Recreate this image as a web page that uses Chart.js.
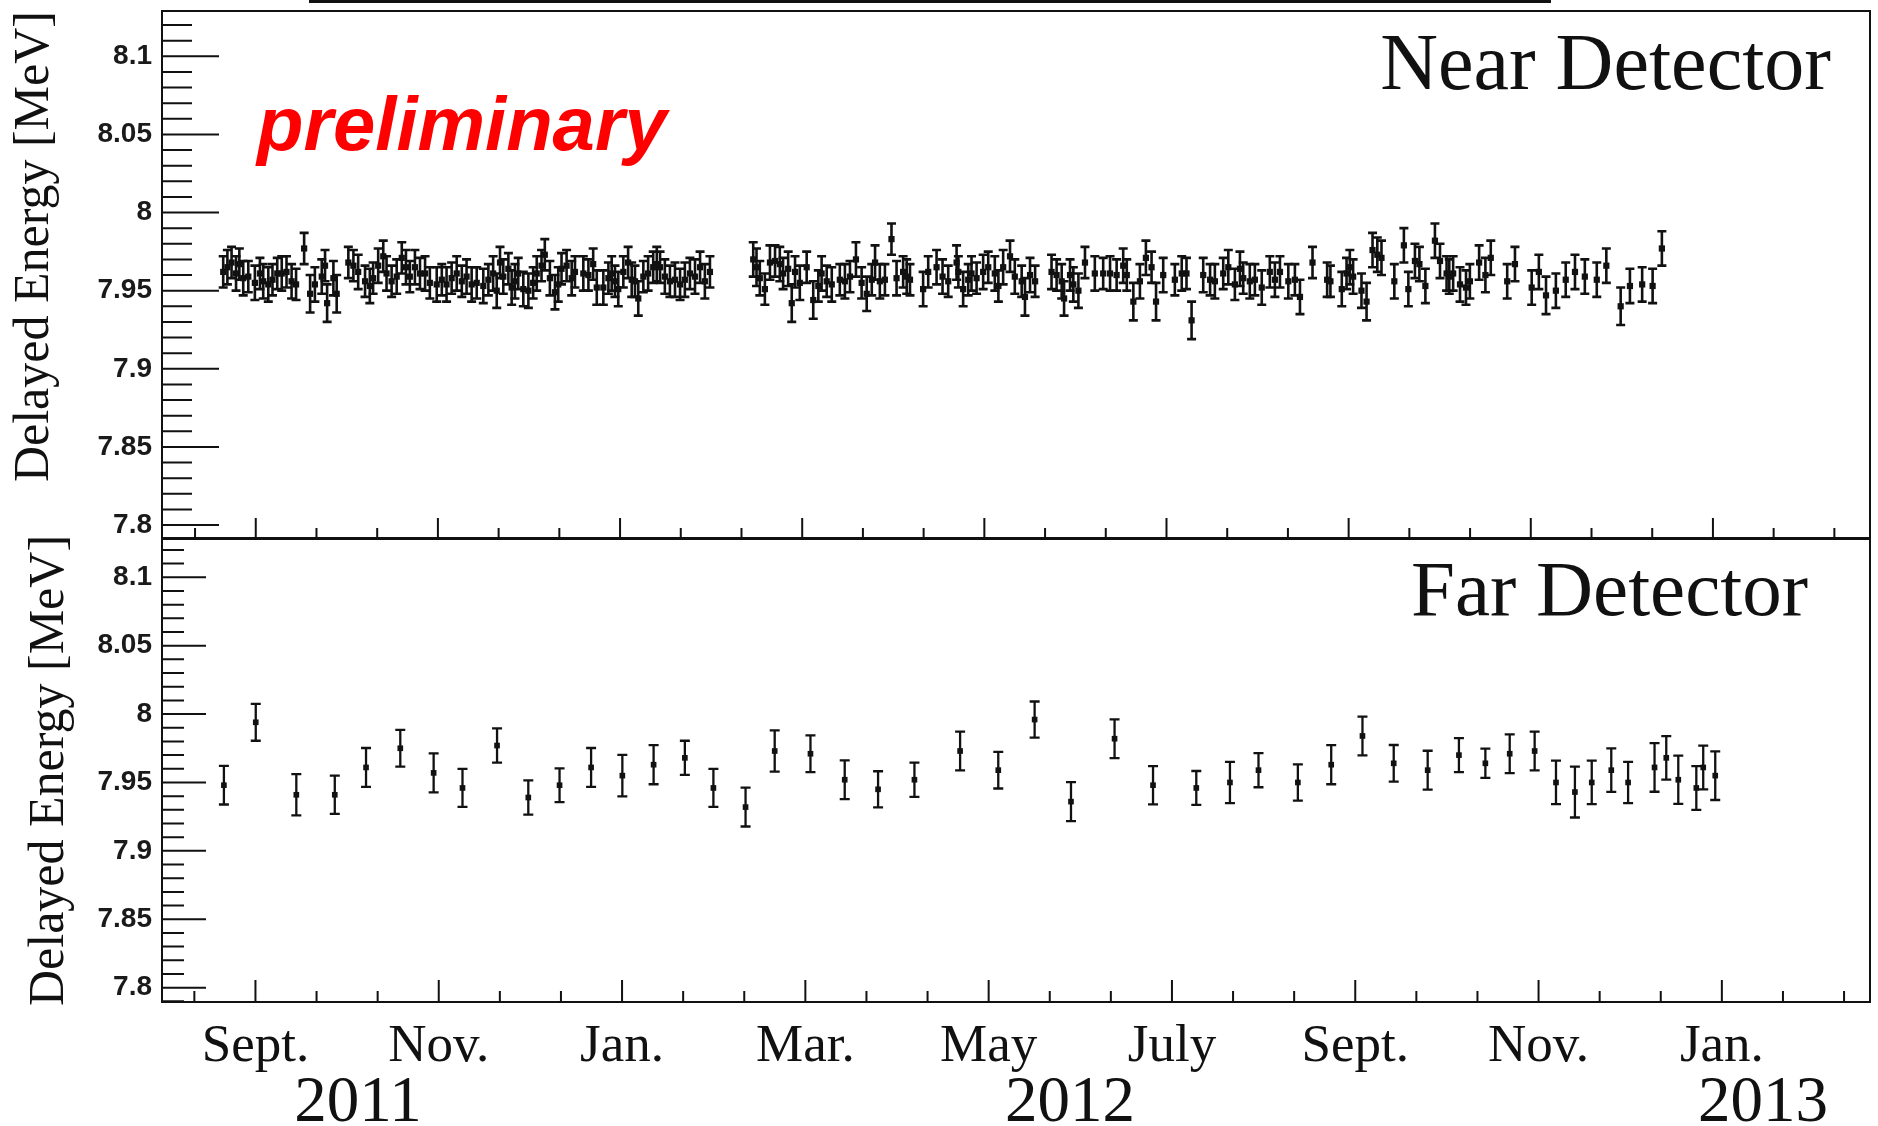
<!DOCTYPE html>
<html>
<head>
<meta charset="utf-8">
<script src="https://cdn.jsdelivr.net/npm/chart.js@4.4.0/dist/chart.umd.min.js"></script>
<style>
  html, body { margin: 0; padding: 0; background: #fff; }
  body { width: 1878px; height: 1126px; position: relative; overflow: hidden; }
  canvas { position: absolute; left: 0; }
  #near { top: 0; }
  #far { top: 530px; }
  .rule { position: absolute; left: 309px; width: 1242px; top: 0; height: 3px; background: #111; }
</style>
</head>
<body>
<div class="rule"></div>
<canvas id="near" width="1878" height="545"></canvas>
<canvas id="far" width="1878" height="596"></canvas>
<script>
// x values are days counted from 1 Sept. 2011
var monthLabels = ['Sept.', 'Nov.', 'Jan.', 'Mar.', 'May', 'July', 'Sept.', 'Nov.', 'Jan.'];
var yearLabels = ['2011', '2012', '2013'];
var yTickLabels = ['7.8', '7.85', '7.9', '7.95', '8', '8.05', '8.1'];
var yTickValues = [7.8, 7.85, 7.9, 7.95, 8.0, 8.05, 8.1];

var nearDays = [
  -10.9, -9.5, -8.1, -6.6, -5.5, -4.2, -2.5, -0.3, 1.4, 2.5,
  4.2, 5.6, 7.2, 8.7, 10.3, 12.0, 13.5, 16.2, 18.2, 19.8,
  22.1, 23.2, 23.9, 26.0, 27.1, 31.0, 32.7, 34.3, 36.6, 38.2,
  39.3, 41.0, 42.7, 43.8, 45.5, 47.2, 48.9, 50.3, 51.6, 53.3,
  55.0, 56.7, 58.3, 60.6, 62.3, 63.9, 65.6, 67.3, 69.0, 70.6,
  72.3, 74.0, 76.2, 77.9, 79.5, 80.7, 81.8, 82.9, 84.6, 85.7,
  86.8, 87.9, 89.6, 91.3, 92.9, 94.1, 95.7, 96.8, 98.5, 100.2,
  101.3, 102.4, 104.1, 105.8, 106.9, 109.7, 111.4, 113.0, 114.2, 116.4,
  118.1, 119.2, 120.3, 121.4, 123.1, 124.7, 125.9, 127.0, 128.1, 129.8,
  131.4, 133.1, 134.3, 135.4, 137.0, 138.7, 140.4, 142.1, 143.7, 145.4,
  147.1, 148.8, 150.4, 152.1, 166.6, 167.7, 168.8, 170.5, 172.2, 173.9,
  175.5, 176.6, 178.3, 179.5, 180.6, 182.2, 184.5, 186.7, 188.4, 189.5,
  191.2, 192.9, 195.6, 197.3, 199.0, 201.0, 202.9, 204.6, 206.3, 207.4,
  209.0, 210.7, 212.9, 214.6, 216.8, 218.0, 219.1, 223.5, 225.2, 228.0,
  230.0, 231.9, 234.7, 235.3, 236.9, 238.6, 239.7, 241.4, 243.6, 245.3,
  247.5, 248.7, 250.3, 252.6, 254.2, 256.5, 257.6, 259.3, 261.0, 266.5,
  268.2, 269.9, 270.7, 272.7, 273.8, 275.5, 277.7, 281.0, 283.8, 286.1,
  288.3, 290.5, 291.7, 293.9, 296.1, 298.1, 300.0, 301.5, 303.9, 307.8,
  310.1, 311.7, 313.4, 317.3, 319.6, 321.2, 324.0, 325.7, 327.9, 329.6,
  330.7, 332.9, 334.6, 336.9, 339.6, 341.3, 343.0, 345.8, 348.0, 349.7,
  353.9, 358.8, 359.9, 363.7, 365.3, 366.4, 367.5, 370.3, 372.0, 374.0,
  375.6, 377.0, 381.3, 384.5, 386.0, 388.2, 389.7, 391.7, 394.9, 396.6,
  398.8, 399.7, 401.0, 403.3, 405.3, 406.6, 409.7, 411.8, 413.6, 419.1,
  421.7, 427.3, 429.7, 432.1, 435.4, 438.7, 441.8, 445.1, 449.1, 452.3,
  457.1, 460.2, 464.3, 467.8, 470.9
];
var nearValues = [
  7.962, 7.965, 7.968, 7.961, 7.967, 7.958, 7.959, 7.955, 7.961, 7.956,
  7.954, 7.957, 7.961, 7.961, 7.962, 7.956, 7.954, 7.977, 7.948, 7.954,
  7.959, 7.966, 7.942, 7.958, 7.948, 7.968, 7.966, 7.962, 7.956, 7.953,
  7.958, 7.966, 7.972, 7.961, 7.956, 7.959, 7.971, 7.965, 7.959, 7.965,
  7.961, 7.961, 7.955, 7.954, 7.957, 7.954, 7.958, 7.961, 7.956, 7.959,
  7.954, 7.955, 7.953, 7.957, 7.961, 7.950, 7.968, 7.959, 7.964, 7.952,
  7.956, 7.961, 7.951, 7.950, 7.955, 7.961, 7.966, 7.973, 7.958, 7.949,
  7.954, 7.964, 7.966, 7.958, 7.962, 7.961, 7.960, 7.967, 7.952, 7.952,
  7.958, 7.961, 7.956, 7.951, 7.962, 7.968, 7.957, 7.956, 7.945, 7.959,
  7.961, 7.965, 7.967, 7.965, 7.959, 7.956, 7.957, 7.954, 7.957, 7.961,
  7.959, 7.965, 7.956, 7.962, 7.970, 7.965, 7.958, 7.951, 7.968, 7.969,
  7.967, 7.961, 7.964, 7.942, 7.962, 7.955, 7.965, 7.944, 7.953, 7.961,
  7.956, 7.954, 7.957, 7.956, 7.959, 7.970, 7.955, 7.948, 7.957, 7.968,
  7.956, 7.957, 7.983, 7.958, 7.962, 7.959, 7.957, 7.951, 7.962, 7.965,
  7.959, 7.956, 7.968, 7.962, 7.951, 7.957, 7.961, 7.958, 7.962, 7.965,
  7.961, 7.953, 7.965, 7.972, 7.959, 7.956, 7.946, 7.960, 7.956, 7.962,
  7.960, 7.956, 7.945, 7.960, 7.954, 7.950, 7.968, 7.961, 7.961, 7.961,
  7.960, 7.966, 7.960, 7.943, 7.956, 7.971, 7.965, 7.943, 7.960, 7.957,
  7.961, 7.961, 7.931, 7.960, 7.957, 7.956, 7.961, 7.965, 7.954, 7.964,
  7.958, 7.956, 7.957, 7.952, 7.962, 7.957, 7.962, 7.956, 7.957, 7.946,
  7.968, 7.957, 7.956, 7.951, 7.961, 7.965, 7.959, 7.950, 7.943, 7.976,
  7.973, 7.971, 7.956, 7.979, 7.951, 7.969, 7.967, 7.953, 7.982, 7.969,
  7.961, 7.959, 7.961, 7.954, 7.952, 7.956, 7.968, 7.960, 7.971, 7.956,
  7.967, 7.952, 7.962, 7.947, 7.950, 7.957, 7.962, 7.959, 7.957, 7.966,
  7.940, 7.953, 7.954, 7.953, 7.977
];
var nearErrors = [
  0.010, 0.011, 0.010, 0.011, 0.010, 0.011, 0.010, 0.011, 0.010, 0.011,
  0.011, 0.010, 0.010, 0.011, 0.010, 0.011, 0.010, 0.010, 0.012, 0.011,
  0.011, 0.010, 0.012, 0.011, 0.012, 0.010, 0.010, 0.011, 0.010, 0.011,
  0.010, 0.011, 0.010, 0.011, 0.010, 0.011, 0.010, 0.011, 0.010, 0.011,
  0.010, 0.011, 0.010, 0.011, 0.010, 0.011, 0.010, 0.011, 0.010, 0.011,
  0.011, 0.010, 0.011, 0.010, 0.011, 0.011, 0.010, 0.011, 0.010, 0.011,
  0.011, 0.010, 0.011, 0.011, 0.010, 0.011, 0.010, 0.010, 0.011, 0.011,
  0.011, 0.010, 0.010, 0.011, 0.010, 0.011, 0.010, 0.010, 0.011, 0.011,
  0.010, 0.011, 0.010, 0.011, 0.010, 0.010, 0.011, 0.010, 0.011, 0.010,
  0.011, 0.010, 0.011, 0.010, 0.011, 0.010, 0.011, 0.010, 0.011, 0.010,
  0.011, 0.010, 0.011, 0.010, 0.011, 0.012, 0.011, 0.010, 0.011, 0.010,
  0.011, 0.010, 0.011, 0.012, 0.010, 0.011, 0.010, 0.012, 0.010, 0.011,
  0.010, 0.011, 0.010, 0.011, 0.010, 0.011, 0.010, 0.011, 0.010, 0.011,
  0.011, 0.010, 0.010, 0.011, 0.010, 0.011, 0.010, 0.011, 0.010, 0.011,
  0.011, 0.010, 0.011, 0.010, 0.011, 0.010, 0.011, 0.010, 0.011, 0.010,
  0.011, 0.010, 0.011, 0.010, 0.011, 0.010, 0.012, 0.011, 0.010, 0.011,
  0.010, 0.011, 0.011, 0.010, 0.011, 0.011, 0.010, 0.011, 0.010, 0.011,
  0.010, 0.011, 0.010, 0.012, 0.011, 0.011, 0.010, 0.012, 0.011, 0.010,
  0.011, 0.010, 0.012, 0.011, 0.010, 0.011, 0.010, 0.011, 0.010, 0.011,
  0.010, 0.011, 0.010, 0.011, 0.010, 0.011, 0.010, 0.011, 0.010, 0.011,
  0.010, 0.011, 0.010, 0.011, 0.010, 0.011, 0.011, 0.011, 0.012, 0.011,
  0.011, 0.011, 0.011, 0.011, 0.011, 0.011, 0.011, 0.011, 0.011, 0.011,
  0.011, 0.011, 0.011, 0.011, 0.011, 0.011, 0.011, 0.011, 0.011, 0.011,
  0.011, 0.011, 0.011, 0.012, 0.011, 0.011, 0.011, 0.011, 0.011, 0.011,
  0.012, 0.011, 0.011, 0.011, 0.011
];

var farDays = [
  -10.5, 0.1, 13.6, 26.4, 36.8, 48.2, 59.3, 68.9, 80.4, 90.8,
  101.2, 111.7, 122.1, 132.5, 142.9, 152.4, 163.1, 172.8, 184.7, 196.1,
  207.2, 219.3, 234.5, 247.2, 259.3, 271.4, 285.9, 298.7, 313.1, 324.3,
  333.8, 346.9, 358.0, 368.4, 378.8, 390.1, 400.5, 409.3, 417.4, 425.7,
  432.8, 439.1, 444.7, 451.2, 456.8, 465.6, 469.5, 473.5, 479.5, 481.8,
  485.8
];
var farValues = [
  7.948, 7.994, 7.941, 7.941, 7.961, 7.975, 7.957, 7.946, 7.977, 7.939,
  7.948, 7.961, 7.955, 7.963, 7.968, 7.946, 7.932, 7.973, 7.971, 7.952,
  7.945, 7.952, 7.973, 7.959, 7.996, 7.936, 7.982, 7.948, 7.946, 7.950,
  7.959, 7.950, 7.963, 7.984, 7.964, 7.959, 7.970, 7.964, 7.971, 7.973,
  7.950, 7.943, 7.950, 7.959, 7.950, 7.961, 7.968, 7.952, 7.946, 7.961,
  7.955
];
var farErrors = [
  0.0141, 0.0135, 0.0151, 0.0140, 0.0142, 0.0134, 0.0143, 0.0139, 0.0125, 0.0125,
  0.0123, 0.0142, 0.0152, 0.0143, 0.0125, 0.0139, 0.0142, 0.0151, 0.0134, 0.0142,
  0.0132, 0.0125, 0.0142, 0.0134, 0.0132, 0.0142, 0.0142, 0.0140, 0.0124, 0.0151,
  0.0125, 0.0133, 0.0143, 0.0142, 0.0134, 0.0142, 0.0124, 0.0107, 0.0142, 0.0142,
  0.0159, 0.0186, 0.0159, 0.0159, 0.0151, 0.0178, 0.0159, 0.0176, 0.0160, 0.0160,
  0.0178
];

var INK = '#111';
var SERIF = "'Liberation Serif', 'Times New Roman', serif";
var SANS = "'Liberation Sans', Arial, sans-serif";
var MONTH_STEP = 61; // major x division, days

function toPoints(days, values) {
  return days.map(function (d, i) { return { x: d, y: values[i] }; });
}

// vertical error bars with caps, drawn under the markers
var errorBars = {
  id: 'errorBars',
  beforeDatasetsDraw: function (chart, args, o) {
    var ctx = chart.ctx, a = chart.chartArea, ys = chart.scales.y;
    ctx.save();
    ctx.beginPath();
    ctx.rect(a.left, a.top, a.width, a.height);
    ctx.clip();
    ctx.strokeStyle = INK;
    ctx.lineWidth = o.lineWidth;
    chart.data.datasets.forEach(function (ds, di) {
      var meta = chart.getDatasetMeta(di);
      meta.data.forEach(function (pt, i) {
        var v = ds.data[i].y, e = ds.errors[i];
        var y0 = ys.getPixelForValue(v - e), y1 = ys.getPixelForValue(v + e);
        var w = o.capWidth / 2;
        ctx.beginPath();
        ctx.moveTo(pt.x, y0); ctx.lineTo(pt.x, y1);
        ctx.moveTo(pt.x - w, y0); ctx.lineTo(pt.x + w, y0);
        ctx.moveTo(pt.x - w, y1); ctx.lineTo(pt.x + w, y1);
        ctx.stroke();
      });
    });
    ctx.restore();
  }
};

// ROOT-style frame with inward major/minor ticks
var rootFrame = {
  id: 'rootFrame',
  afterDraw: function (chart, args, o) {
    var ctx = chart.ctx, a = chart.chartArea, xs = chart.scales.x, ys = chart.scales.y;
    ctx.save();
    ctx.strokeStyle = INK;
    ctx.lineWidth = 2;
    ctx.strokeRect(a.left, a.top, a.width, a.height);
    ctx.beginPath();
    for (var k = Math.ceil(ys.min * 100 - 1e-6); k <= Math.floor(ys.max * 100 + 1e-6); k++) {
      var py = ys.getPixelForValue(k / 100);
      ctx.moveTo(a.left, py);
      ctx.lineTo(a.left + (k % 5 === 0 ? o.yMajor : o.yMinor), py);
    }
    var step = MONTH_STEP / 3;
    for (var j = Math.ceil(xs.min / step); j <= Math.floor(xs.max / step); j++) {
      var px = xs.getPixelForValue(j * step);
      ctx.moveTo(px, a.bottom);
      ctx.lineTo(px, a.bottom - (j % 3 === 0 ? o.xMajor : o.xMinor));
    }
    ctx.stroke();
    ctx.restore();
  }
};

// free text (panel names, year labels, "preliminary")
var labels = {
  id: 'labels',
  afterDraw: function (chart, args, o) {
    var ctx = chart.ctx;
    ctx.save();
    o.items.forEach(function (t) {
      ctx.font = t.font;
      ctx.fillStyle = t.color || INK;
      ctx.textAlign = t.align || 'left';
      ctx.textBaseline = 'alphabetic';
      ctx.fillText(t.text, t.x, t.y);
    });
    ctx.restore();
  }
};

function panel(canvasId, cfg) {
  return new Chart(document.getElementById(canvasId), {
    type: 'scatter',
    data: {
      datasets: [{
        data: toPoints(cfg.days, cfg.values),
        errors: cfg.errors,
        pointStyle: 'rect',
        pointRadius: cfg.pointRadius,
        pointHoverRadius: cfg.pointRadius,
        backgroundColor: INK,
        borderWidth: 0
      }]
    },
    options: {
      responsive: false,
      animation: false,
      devicePixelRatio: 1,
      layout: { autoPadding: false, padding: { left: 0, right: 8, top: cfg.top, bottom: 0 } },
      plugins: {
        legend: { display: false },
        tooltip: { enabled: false },
        errorBars: { lineWidth: cfg.barWidth, capWidth: cfg.capWidth },
        rootFrame: cfg.ticks,
        labels: { items: cfg.texts }
      },
      scales: {
        x: {
          type: 'linear',
          bounds: 'data',
          min: cfg.xMin,
          max: cfg.xMax,
          afterBuildTicks: function (s) {
            s.ticks = monthLabels.map(function (m, i) { return { value: i * MONTH_STEP }; });
          },
          afterFit: function (s) {
            s.height = cfg.xAxisHeight;
            s.paddingLeft = 0; s.paddingRight = 0;
          },
          grid: { display: false, drawTicks: false },
          border: { display: false },
          ticks: {
            display: cfg.showMonths,
            autoSkip: false,
            maxRotation: 0,
            padding: 13,
            color: INK,
            font: { family: SERIF, size: 53 },
            callback: function (v, i) { return monthLabels[i]; }
          }
        },
        y: {
          type: 'linear',
          bounds: 'data',
          min: cfg.yMin,
          max: cfg.yMax,
          afterBuildTicks: function (s) {
            s.ticks = yTickValues.map(function (v) { return { value: v }; });
          },
          afterFit: function (s) {
            s.width = 162;
            s.paddingTop = 0; s.paddingBottom = 0;
          },
          grid: { display: false, drawTicks: false },
          border: { display: false },
          ticks: {
            padding: 10,
            color: '#1a1a1a',
            font: { family: SANS, size: 28, weight: 'bold' },
            callback: function (v, i) { return yTickLabels[i]; }
          },
          title: {
            display: true,
            text: 'Delayed Energy [MeV]',
            align: cfg.titleAlign,
            color: INK,
            font: { family: SERIF, size: 50 },
            padding: { top: cfg.titlePad, bottom: 0 }
          }
        }
      }
    },
    plugins: [errorBars, rootFrame, labels]
  });
}

panel('near', {
  days: nearDays, values: nearValues, errors: nearErrors,
  pointRadius: 4.4, capWidth: 9, barWidth: 2.6,
  top: 11, xAxisHeight: 7, showMonths: false,
  xMin: -31.4, xMax: 540.6, yMin: 7.7917, yMax: 8.129,
  titleAlign: 'end', titlePad: 5,
  ticks: { yMajor: 57, yMinor: 30, xMajor: 20, xMinor: 10 },
  texts: [
    { text: 'Near Detector', x: 1831, y: 89, font: '80px ' + SERIF, align: 'right' },
    { text: 'preliminary', x: 257, y: 150, font: 'italic bold 76px ' + SANS, color: '#ff0000' }
  ]
});

panel('far', {
  days: farDays, values: farValues, errors: farErrors,
  pointRadius: 4, capWidth: 10, barWidth: 2.3,
  top: 9, xAxisHeight: 124, showMonths: true,
  xMin: -31.1, xMax: 537.3, yMin: 7.7895, yMax: 8.128,
  titleAlign: 'center', titlePad: 20,
  ticks: { yMajor: 44, yMinor: 22, xMajor: 22, xMinor: 11 },
  texts: [
    { text: 'Far Detector', x: 1808, y: 85, font: '79px ' + SERIF, align: 'right' },
    { text: yearLabels[0], x: 358, y: 591, font: '65px ' + SERIF, align: 'center' },
    { text: yearLabels[1], x: 1070, y: 591, font: '65px ' + SERIF, align: 'center' },
    { text: yearLabels[2], x: 1763, y: 591, font: '65px ' + SERIF, align: 'center' }
  ]
});
</script>
</body>
</html>
